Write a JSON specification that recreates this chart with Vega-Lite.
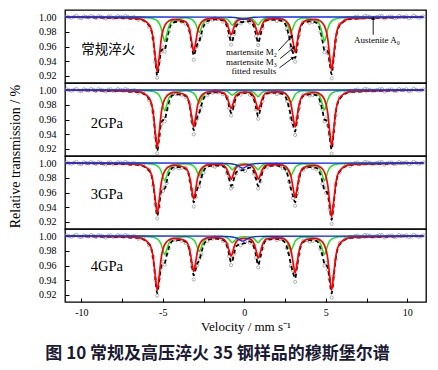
{
"$schema":"https://vega.github.io/schema/vega-lite/v6.json",
"background":"white",
"padding":{"left":7,"top":9,"right":5,"bottom":4},
"bounds":"flush",
"spacing":0,
"config":{"view":{"stroke":"#000","strokeWidth":1.3},"font":"Liberation Serif","axis":{"labelFont":"Liberation Serif","titleFont":"Liberation Serif","labelColor":"#000","titleColor":"#000","tickColor":"#000","titleFontWeight":"normal","domain":false,"grid":false,"labelFontSize":10,"labelFlush":false,"labelOverlap":false}},
"title":{"text":"图 10  常规及高压淬火 35 钢样品的穆斯堡尔谱","orient":"bottom","anchor":"middle","frame":"bounds","font":"Noto Sans CJK SC","fontSize":17,"fontWeight":"bold","color":"#1a1a33","offset":12},
"data":{"values":[
{"p":0,"x":-11,"r":1,"g":1,"f":1,"b":1},
{"p":0,"x":11,"r":1,"g":1,"f":1,"b":1},
{"p":0,"x":-10.9,"d":1.0008},{"p":0,"x":-10.75,"d":0.9996},{"p":0,"x":-10.6,"d":0.999},{"p":0,"x":-10.45,"d":1.0004},{"p":0,"x":-10.3,"d":1.0016},{"p":0,"x":-10.15,"d":0.9991},{"p":0,"x":-10,"d":0.9984},{"p":0,"x":-9.85,"d":1.0009},{"p":0,"x":-9.7,"d":1.0001},{"p":0,"x":-9.55,"d":0.9994},{"p":0,"x":-9.4,"d":1.0013},{"p":0,"x":-9.25,"d":1.0002},{"p":0,"x":-9.1,"d":0.9987},{"p":0,"x":-8.95,"d":1.0011},{"p":0,"x":-8.8,"d":1.0005},{"p":0,"x":-8.65,"d":0.9992},{"p":0,"x":-8.5,"d":0.998},{"p":0,"x":-8.35,"d":1.0006},{"p":0,"x":-8.2,"d":1.001},{"p":0,"x":-8.05,"d":0.9988},{"p":0,"x":-7.9,"d":0.9993},{"p":0,"x":-7.75,"d":1.0012},{"p":0,"x":-7.6,"d":1.0003},{"p":0,"x":-7.45,"d":0.9995},{"p":0,"x":-7.3,"d":1.0014},{"p":0,"x":-7.15,"d":1.0004},{"p":0,"x":-7,"d":0.9985},{"p":0,"x":-6.9,"d":0.9992},{"p":0,"x":-6.75,"d":0.9999},{"p":0,"x":-6.2,"d":0.9968},
{"p":0,"x":-4.2,"d":0.9948},{"p":0,"x":-3.85,"d":0.9935},{"p":0,"x":-1.95,"d":0.9962},{"p":0,"x":-1.6,"d":0.9971},{"p":0,"x":1.6,"d":0.9968},{"p":0,"x":1.8,"d":0.9975},{"p":0,"x":2.2,"d":0.9958},{"p":0,"x":3.85,"d":0.9944},{"p":0,"x":4.2,"d":0.9931},{"p":0,"x":6.2,"d":0.9962},
{"p":0,"x":6.8,"d":0.9999},{"p":0,"x":6.95,"d":1.0006},{"p":0,"x":7.1,"d":0.9985},{"p":0,"x":7.25,"d":0.9994},{"p":0,"x":7.4,"d":1.0014},{"p":0,"x":7.55,"d":1.0009},{"p":0,"x":7.7,"d":1.0003},{"p":0,"x":7.85,"d":0.9989},{"p":0,"x":8,"d":0.9993},{"p":0,"x":8.15,"d":1.0003},{"p":0,"x":8.3,"d":1.001},{"p":0,"x":8.45,"d":1.0012},{"p":0,"x":8.6,"d":0.998},{"p":0,"x":8.75,"d":0.9995},{"p":0,"x":8.9,"d":1.0005},{"p":0,"x":9.05,"d":1.0007},{"p":0,"x":9.2,"d":0.9987},{"p":0,"x":9.35,"d":0.9991},{"p":0,"x":9.5,"d":1.0013},{"p":0,"x":9.65,"d":1.0004},{"p":0,"x":9.8,"d":1.0001},{"p":0,"x":9.95,"d":1.0011},{"p":0,"x":10.1,"d":0.9984},{"p":0,"x":10.25,"d":0.9993},{"p":0,"x":10.4,"d":1.0016},{"p":0,"x":10.55,"d":1.0002},{"p":0,"x":10.7,"d":0.999},{"p":0,"x":10.85,"d":0.9996},{"p":0,"x":11,"d":1.0008},

{"p":1,"x":-6.5,"r":0.9979,"g":0.9995,"f":0.9974,"d":0.9962},
{"p":1,"x":-5.84,"r":0.9898,"g":0.9986,"f":0.9884,"d":0.9868},
{"p":1,"x":-5.59,"r":0.9711,"g":0.9976,"f":0.9687,"d":0.9712},
{"p":1,"x":-5.46,"r":0.9456,"g":0.9965,"f":0.9421,"d":0.9385},
{"p":1,"x":-5.34,"r":0.926,"g":0.9948,"f":0.9208,"d":0.9175},
{"p":1,"x":-5.22,"r":0.9456,"g":0.9915,"f":0.9371,"d":0.9402},
{"p":1,"x":-5.09,"r":0.9711,"g":0.9843,"f":0.9554,"d":0.953},
{"p":1,"x":-4.98,"r":0.9825,"g":0.9736,"f":0.9561,"d":0.9588},
{"p":1,"x":-4.88,"r":0.9882,"g":0.967,"f":0.9552,"d":0.9531},
{"p":1,"x":-4.76,"r":0.9922,"g":0.9757,"f":0.9679,"d":0.9702},
{"p":1,"x":-4.63,"r":0.9946,"g":0.9871,"f":0.9817,"d":0.9801},
{"p":1,"x":-4.38,"r":0.9969,"g":0.9954,"f":0.9923,"d":0.9941},
{"p":1,"x":-4,"r":0.9962,"g":0.9979,"f":0.9941,"d":0.9958},
{"p":1,"x":-3.6,"r":0.9935,"g":0.9989,"f":0.9924,"d":0.9906},
{"p":1,"x":-3.35,"r":0.9817,"g":0.9978,"f":0.9795,"d":0.982},
{"p":1,"x":-3.22,"r":0.9655,"g":0.9967,"f":0.9622,"d":0.9598},
{"p":1,"x":-3.1,"r":0.953,"g":0.9946,"f":0.9476,"d":0.942},
{"p":1,"x":-2.98,"r":0.9655,"g":0.9905,"f":0.956,"d":0.9588},
{"p":1,"x":-2.88,"r":0.9788,"g":0.9846,"f":0.9634,"d":0.961},
{"p":1,"x":-2.76,"r":0.9879,"g":0.979,"f":0.9669,"d":0.9695},
{"p":1,"x":-2.64,"r":0.9925,"g":0.9846,"f":0.9771,"d":0.9752},
{"p":1,"x":-2.51,"r":0.9952,"g":0.9918,"f":0.987,"d":0.9888},
{"p":1,"x":-2.26,"r":0.9975,"g":0.9971,"f":0.9946,"d":0.9931},
{"p":1,"x":-1.8,"r":0.998,"g":0.9987,"f":0.9967,"b":0.9999,"d":0.9985},
{"p":1,"x":-1.31,"r":0.9967,"g":0.9988,"f":0.9953,"b":0.9998,"d":0.9937},
{"p":1,"x":-1.06,"r":0.9906,"g":0.997,"f":0.9874,"b":0.9998,"d":0.9896},
{"p":1,"x":-0.93,"r":0.9824,"g":0.9945,"f":0.9766,"b":0.9997,"d":0.9742},
{"p":1,"x":-0.81,"r":0.976,"g":0.9905,"f":0.9661,"b":0.9996,"d":0.9625},
{"p":1,"x":-0.73,"r":0.9793,"g":0.989,"f":0.9678,"b":0.9995,"d":0.9705},
{"p":1,"x":-0.61,"r":0.988,"g":0.9919,"f":0.9792,"b":0.9993,"d":0.977},
{"p":1,"x":-0.48,"r":0.9935,"g":0.9957,"f":0.9882,"b":0.999,"d":0.9901},
{"p":1,"x":-0.23,"r":0.9967,"g":0.9985,"f":0.9929,"b":0.9978,"d":0.9912},
{"p":1,"x":-0.05,"b":0.997},
{"p":1,"x":0.05,"r":0.9975,"g":0.9986,"f":0.9934,"b":0.9973,"d":0.9952},
{"p":1,"x":0.34,"r":0.997,"g":0.9985,"f":0.9944,"b":0.9989,"d":0.9925},
{"p":1,"x":0.59,"r":0.9919,"g":0.9957,"f":0.9872,"b":0.9996,"d":0.9893},
{"p":1,"x":0.72,"r":0.9846,"g":0.9919,"f":0.9762,"b":0.9997,"d":0.9738},
{"p":1,"x":0.855,"r":0.9761,"g":0.9891,"f":0.965,"b":0.9998,"d":0.9618},
{"p":1,"x":0.99,"r":0.9824,"g":0.993,"f":0.9752,"d":0.9779},
{"p":1,"x":1.12,"r":0.9906,"g":0.9963,"f":0.9869,"d":0.985},
{"p":1,"x":1.37,"r":0.9967,"g":0.9986,"f":0.9953,"b":1,"d":0.997},
{"p":1,"x":2,"r":0.9978,"g":0.9986,"f":0.9964,"d":0.9946},
{"p":1,"x":2.36,"r":0.9969,"g":0.9971,"f":0.994,"d":0.9958},
{"p":1,"x":2.61,"r":0.9936,"g":0.9918,"f":0.9854,"d":0.9836},
{"p":1,"x":2.74,"r":0.9896,"g":0.9846,"f":0.9742,"d":0.9768},
{"p":1,"x":2.86,"r":0.9821,"g":0.979,"f":0.9611,"d":0.9588},
{"p":1,"x":2.99,"r":0.9663,"g":0.9852,"f":0.9515,"d":0.954},
{"p":1,"x":3.12,"r":0.952,"g":0.9922,"f":0.9442,"d":0.9395},
{"p":1,"x":3.24,"r":0.9647,"g":0.9954,"f":0.9601,"d":0.9628},
{"p":1,"x":3.37,"r":0.9813,"g":0.9972,"f":0.9785,"d":0.9763},
{"p":1,"x":3.62,"r":0.9934,"g":0.9986,"f":0.992,"d":0.9938},
{"p":1,"x":4,"r":0.9961,"g":0.9979,"f":0.994,"d":0.9922},
{"p":1,"x":4.42,"r":0.9969,"g":0.9954,"f":0.9923,"d":0.994},
{"p":1,"x":4.67,"r":0.9944,"g":0.9871,"f":0.9815,"d":0.9794},
{"p":1,"x":4.8,"r":0.9919,"g":0.9757,"f":0.9676,"d":0.9701},
{"p":1,"x":4.92,"r":0.9877,"g":0.967,"f":0.9547,"d":0.952},
{"p":1,"x":5.02,"r":0.9815,"g":0.9736,"f":0.9551,"d":0.9576},
{"p":1,"x":5.13,"r":0.969,"g":0.9843,"f":0.9533,"d":0.951},
{"p":1,"x":5.24,"r":0.9471,"g":0.9907,"f":0.9378,"d":0.9405},
{"p":1,"x":5.36,"r":0.928,"g":0.9944,"f":0.9224,"d":0.9168},
{"p":1,"x":5.48,"r":0.9471,"g":0.9963,"f":0.9434,"d":0.946},
{"p":1,"x":5.61,"r":0.9719,"g":0.9974,"f":0.9693,"d":0.9671},
{"p":1,"x":5.86,"r":0.9901,"g":0.9986,"f":0.9887,"d":0.9905},
{"p":1,"x":6.5,"r":0.9978,"g":0.9995,"f":0.9973,"d":0.9988},

{"p":2,"x":-6.5,"r":0.9977,"g":0.9996,"f":0.9973,"d":0.9961},
{"p":2,"x":-5.84,"r":0.9892,"g":0.9988,"f":0.988,"d":0.9864},
{"p":2,"x":-5.59,"r":0.9696,"g":0.9979,"f":0.9675,"d":0.97},
{"p":2,"x":-5.46,"r":0.9427,"g":0.997,"f":0.9397,"d":0.9361},
{"p":2,"x":-5.34,"r":0.922,"g":0.9955,"f":0.9175,"d":0.9142},
{"p":2,"x":-5.22,"r":0.9427,"g":0.9928,"f":0.9355,"d":0.9386},
{"p":2,"x":-5.09,"r":0.9696,"g":0.9867,"f":0.9563,"d":0.9539},
{"p":2,"x":-4.98,"r":0.9816,"g":0.9776,"f":0.9592,"d":0.9619},
{"p":2,"x":-4.88,"r":0.9876,"g":0.972,"f":0.9596,"d":0.9575},
{"p":2,"x":-4.76,"r":0.9917,"g":0.9794,"f":0.9711,"d":0.9734},
{"p":2,"x":-4.63,"r":0.9943,"g":0.9891,"f":0.9834,"d":0.9818},
{"p":2,"x":-4.38,"r":0.9968,"g":0.9961,"f":0.9929,"d":0.9947},
{"p":2,"x":-4,"r":0.9959,"g":0.9981,"f":0.994,"d":0.9957},
{"p":2,"x":-3.6,"r":0.9931,"g":0.999,"f":0.9921,"d":0.9903},
{"p":2,"x":-3.35,"r":0.9805,"g":0.9981,"f":0.9786,"d":0.9811},
{"p":2,"x":-3.22,"r":0.9632,"g":0.9971,"f":0.9603,"d":0.9579},
{"p":2,"x":-3.1,"r":0.95,"g":0.9954,"f":0.9454,"d":0.9398},
{"p":2,"x":-2.98,"r":0.9632,"g":0.9919,"f":0.9551,"d":0.9579},
{"p":2,"x":-2.88,"r":0.9774,"g":0.9868,"f":0.9642,"d":0.9618},
{"p":2,"x":-2.76,"r":0.9871,"g":0.982,"f":0.9691,"d":0.9717},
{"p":2,"x":-2.64,"r":0.992,"g":0.9868,"f":0.9788,"d":0.9769},
{"p":2,"x":-2.51,"r":0.9948,"g":0.993,"f":0.9878,"d":0.9896},
{"p":2,"x":-2.26,"r":0.9973,"g":0.9975,"f":0.9948,"d":0.9933},
{"p":2,"x":-1.8,"r":0.9978,"g":0.9991,"f":0.9969,"d":0.9987},
{"p":2,"x":-1.31,"r":0.9965,"g":0.9993,"f":0.9958,"d":0.9942},
{"p":2,"x":-1.06,"r":0.9902,"g":0.9981,"f":0.9883,"d":0.9905},
{"p":2,"x":-0.93,"r":0.9816,"g":0.9965,"f":0.9781,"d":0.9757},
{"p":2,"x":-0.81,"r":0.975,"g":0.994,"f":0.969,"d":0.9654},
{"p":2,"x":-0.73,"r":0.9784,"g":0.993,"f":0.9714,"d":0.9741},
{"p":2,"x":-0.61,"r":0.9875,"g":0.9949,"f":0.9824,"d":0.9802},
{"p":2,"x":-0.48,"r":0.9933,"g":0.9973,"f":0.9906,"d":0.9925},
{"p":2,"x":-0.23,"r":0.9964,"g":0.999,"f":0.9954,"d":0.9937},
{"p":2,"x":0.05,"r":0.9972,"g":0.9991,"f":0.9963,"d":0.9981},
{"p":2,"x":0.34,"r":0.9966,"g":0.9988,"f":0.9954,"d":0.9935},
{"p":2,"x":0.59,"r":0.9909,"g":0.9965,"f":0.9874,"d":0.9895},
{"p":2,"x":0.72,"r":0.9827,"g":0.9934,"f":0.9761,"d":0.9737},
{"p":2,"x":0.855,"r":0.9731,"g":0.991,"f":0.9642,"d":0.961},
{"p":2,"x":0.99,"r":0.9802,"g":0.9942,"f":0.9744,"d":0.9771},
{"p":2,"x":1.12,"r":0.9895,"g":0.997,"f":0.9865,"d":0.9846},
{"p":2,"x":1.37,"r":0.9963,"g":0.9989,"f":0.9952,"d":0.9969},
{"p":2,"x":2,"r":0.9976,"g":0.9988,"f":0.9964,"d":0.9946},
{"p":2,"x":2.36,"r":0.9968,"g":0.9977,"f":0.9945,"d":0.9963},
{"p":2,"x":2.61,"r":0.9933,"g":0.9934,"f":0.9867,"d":0.9849},
{"p":2,"x":2.74,"r":0.9891,"g":0.9875,"f":0.9766,"d":0.9792},
{"p":2,"x":2.86,"r":0.9814,"g":0.983,"f":0.9644,"d":0.9621},
{"p":2,"x":2.99,"r":0.9648,"g":0.988,"f":0.9528,"d":0.9553},
{"p":2,"x":3.12,"r":0.95,"g":0.9937,"f":0.9437,"d":0.939},
{"p":2,"x":3.24,"r":0.9632,"g":0.9963,"f":0.9595,"d":0.9622},
{"p":2,"x":3.37,"r":0.9805,"g":0.9977,"f":0.9782,"d":0.976},
{"p":2,"x":3.62,"r":0.9931,"g":0.9989,"f":0.992,"d":0.9938},
{"p":2,"x":4,"r":0.9959,"g":0.9983,"f":0.9942,"d":0.9924},
{"p":2,"x":4.42,"r":0.9967,"g":0.9963,"f":0.993,"d":0.9947},
{"p":2,"x":4.67,"r":0.9941,"g":0.9895,"f":0.9836,"d":0.9815},
{"p":2,"x":4.8,"r":0.9914,"g":0.9802,"f":0.9716,"d":0.9741},
{"p":2,"x":4.92,"r":0.987,"g":0.973,"f":0.96,"d":0.9573},
{"p":2,"x":5.02,"r":0.9805,"g":0.9784,"f":0.9589,"d":0.9614},
{"p":2,"x":5.13,"r":0.9673,"g":0.9871,"f":0.9544,"d":0.9521},
{"p":2,"x":5.24,"r":0.9441,"g":0.9924,"f":0.9365,"d":0.9392},
{"p":2,"x":5.36,"r":0.924,"g":0.9954,"f":0.9194,"d":0.9138},
{"p":2,"x":5.48,"r":0.9441,"g":0.9969,"f":0.941,"d":0.9436},
{"p":2,"x":5.61,"r":0.9704,"g":0.9979,"f":0.9683,"d":0.9661},
{"p":2,"x":5.86,"r":0.9895,"g":0.9988,"f":0.9883,"d":0.9901},
{"p":2,"x":6.5,"r":0.9977,"g":0.9996,"f":0.9973,"d":0.9988},

{"p":3,"x":-6.5,"r":0.998,"g":0.9996,"f":0.9976,"d":0.9988},
{"p":3,"x":-5.84,"r":0.9906,"g":0.999,"f":0.9896,"d":0.9912},
{"p":3,"x":-5.59,"r":0.9735,"g":0.9982,"f":0.9717,"d":0.9692},
{"p":3,"x":-5.46,"r":0.95,"g":0.9975,"f":0.9475,"d":0.9439},
{"p":3,"x":-5.34,"r":0.932,"g":0.9962,"f":0.9282,"d":0.9249},
{"p":3,"x":-5.22,"r":0.95,"g":0.9938,"f":0.9438,"d":0.9407},
{"p":3,"x":-5.09,"r":0.9735,"g":0.9886,"f":0.9621,"d":0.9645},
{"p":3,"x":-4.98,"r":0.984,"g":0.9808,"f":0.9648,"d":0.9621},
{"p":3,"x":-4.88,"r":0.9892,"g":0.976,"f":0.9652,"d":0.9673},
{"p":3,"x":-4.76,"r":0.9928,"g":0.9824,"f":0.9752,"d":0.9729},
{"p":3,"x":-4.63,"r":0.995,"g":0.9906,"f":0.9856,"d":0.9872},
{"p":3,"x":-4.38,"r":0.9972,"g":0.9967,"f":0.9939,"d":0.9921},
{"p":3,"x":-4,"r":0.9962,"g":0.9984,"f":0.9946,"d":0.9929},
{"p":3,"x":-3.6,"r":0.9932,"g":0.9991,"f":0.9923,"d":0.9941},
{"p":3,"x":-3.35,"r":0.9809,"g":0.9982,"f":0.9791,"d":0.9766},
{"p":3,"x":-3.22,"r":0.964,"g":0.9973,"f":0.9613,"d":0.9637},
{"p":3,"x":-3.1,"r":0.951,"g":0.9956,"f":0.9466,"d":0.941},
{"p":3,"x":-2.98,"r":0.964,"g":0.9923,"f":0.9563,"d":0.9535},
{"p":3,"x":-2.88,"r":0.9779,"g":0.9875,"f":0.9654,"d":0.9678},
{"p":3,"x":-2.76,"r":0.9874,"g":0.983,"f":0.9704,"d":0.9678},
{"p":3,"x":-2.64,"r":0.9922,"g":0.9875,"f":0.9797,"d":0.9816},
{"p":3,"x":-2.51,"r":0.995,"g":0.9934,"f":0.9884,"d":0.9866},
{"p":3,"x":-2.26,"r":0.9974,"g":0.9977,"f":0.9951,"d":0.9966},
{"p":3,"x":-1.8,"r":0.998,"g":0.999,"f":0.9968,"b":0.9998,"d":0.995},
{"p":3,"x":-1.31,"r":0.997,"g":0.999,"f":0.9956,"b":0.9996,"d":0.9972},
{"p":3,"x":-1.06,"r":0.9914,"g":0.9976,"f":0.9884,"b":0.9994,"d":0.9862},
{"p":3,"x":-0.93,"r":0.9838,"g":0.9955,"f":0.9785,"b":0.9992,"d":0.9809},
{"p":3,"x":-0.81,"r":0.978,"g":0.9922,"f":0.9691,"b":0.9989,"d":0.9655},
{"p":3,"x":-0.73,"r":0.981,"g":0.991,"f":0.9707,"b":0.9987,"d":0.968},
{"p":3,"x":-0.61,"r":0.989,"g":0.9934,"f":0.9806,"b":0.9982,"d":0.9828},
{"p":3,"x":-0.48,"r":0.9941,"g":0.9965,"f":0.9879,"b":0.9973,"d":0.986},
{"p":3,"x":-0.23,"r":0.997,"g":0.9988,"f":0.9899,"b":0.9941,"d":0.9916},
{"p":3,"x":-0.1,"b":0.993},
{"p":3,"x":0.05,"r":0.9977,"g":0.9989,"f":0.991,"b":0.9944,"d":0.9892},
{"p":3,"x":0.34,"r":0.9972,"g":0.9988,"f":0.9938,"b":0.9978,"d":0.9957},
{"p":3,"x":0.59,"r":0.9926,"g":0.9965,"f":0.988,"b":0.9989,"d":0.9859},
{"p":3,"x":0.72,"r":0.9859,"g":0.9934,"f":0.9785,"b":0.9992,"d":0.9809},
{"p":3,"x":0.855,"r":0.9781,"g":0.991,"f":0.9686,"b":0.9994,"d":0.9654},
{"p":3,"x":0.99,"r":0.9838,"g":0.9942,"f":0.9775,"b":0.9995,"d":0.9748},
{"p":3,"x":1.12,"r":0.9914,"g":0.997,"f":0.988,"d":0.9899},
{"p":3,"x":1.37,"r":0.997,"g":0.9989,"f":0.9956,"b":0.9997,"d":0.9939},
{"p":3,"x":2,"r":0.9978,"g":0.9988,"f":0.9966,"d":0.9984},
{"p":3,"x":2.36,"r":0.997,"g":0.9977,"f":0.9947,"d":0.9929},
{"p":3,"x":2.61,"r":0.9937,"g":0.9934,"f":0.9871,"d":0.9889},
{"p":3,"x":2.74,"r":0.9898,"g":0.9875,"f":0.9773,"d":0.9747},
{"p":3,"x":2.86,"r":0.9825,"g":0.983,"f":0.9655,"d":0.9678},
{"p":3,"x":2.99,"r":0.967,"g":0.988,"f":0.955,"d":0.9525},
{"p":3,"x":3.12,"r":0.953,"g":0.9937,"f":0.9467,"d":0.942},
{"p":3,"x":3.24,"r":0.9655,"g":0.9963,"f":0.9618,"d":0.9591},
{"p":3,"x":3.37,"r":0.9817,"g":0.9977,"f":0.9794,"d":0.9816},
{"p":3,"x":3.62,"r":0.9935,"g":0.9989,"f":0.9924,"d":0.9906},
{"p":3,"x":4,"r":0.9962,"g":0.9984,"f":0.9946,"d":0.9964},
{"p":3,"x":4.42,"r":0.9968,"g":0.9967,"f":0.9935,"d":0.9918},
{"p":3,"x":4.67,"r":0.9943,"g":0.9906,"f":0.9849,"d":0.987},
{"p":3,"x":4.8,"r":0.9918,"g":0.9824,"f":0.9742,"d":0.9717},
{"p":3,"x":4.92,"r":0.9875,"g":0.976,"f":0.9635,"d":0.9662},
{"p":3,"x":5.02,"r":0.9812,"g":0.9808,"f":0.962,"d":0.9595},
{"p":3,"x":5.13,"r":0.9686,"g":0.9886,"f":0.9572,"d":0.9595},
{"p":3,"x":5.24,"r":0.9463,"g":0.9933,"f":0.9396,"d":0.9369},
{"p":3,"x":5.36,"r":0.927,"g":0.9959,"f":0.9229,"d":0.9173},
{"p":3,"x":5.48,"r":0.9463,"g":0.9973,"f":0.9436,"d":0.941},
{"p":3,"x":5.61,"r":0.9715,"g":0.9981,"f":0.9696,"d":0.9718},
{"p":3,"x":5.86,"r":0.9899,"g":0.999,"f":0.9889,"d":0.9871},
{"p":3,"x":6.5,"r":0.9978,"g":0.9996,"f":0.9974,"d":0.9959},

{"p":4,"x":-6.5,"r":0.9979,"g":0.9996,"f":0.9975,"d":0.9963},
{"p":4,"x":-5.84,"r":0.9899,"g":0.999,"f":0.9889,"d":0.9873},
{"p":4,"x":-5.59,"r":0.9713,"g":0.9982,"f":0.9695,"d":0.972},
{"p":4,"x":-5.46,"r":0.946,"g":0.9973,"f":0.9433,"d":0.9397},
{"p":4,"x":-5.34,"r":0.9265,"g":0.996,"f":0.9225,"d":0.9192},
{"p":4,"x":-5.22,"r":0.946,"g":0.9936,"f":0.9396,"d":0.9427},
{"p":4,"x":-5.09,"r":0.9713,"g":0.9881,"f":0.9594,"d":0.957},
{"p":4,"x":-4.98,"r":0.9827,"g":0.98,"f":0.9627,"d":0.9654},
{"p":4,"x":-4.88,"r":0.9883,"g":0.975,"f":0.9633,"d":0.9612},
{"p":4,"x":-4.76,"r":0.9922,"g":0.9816,"f":0.9738,"d":0.9761},
{"p":4,"x":-4.63,"r":0.9946,"g":0.9902,"f":0.9848,"d":0.9832},
{"p":4,"x":-4.38,"r":0.9969,"g":0.9965,"f":0.9934,"d":0.9952},
{"p":4,"x":-4,"r":0.9961,"g":0.9983,"f":0.9944,"d":0.9961},
{"p":4,"x":-3.6,"r":0.9934,"g":0.9989,"f":0.9923,"d":0.9905},
{"p":4,"x":-3.35,"r":0.9813,"g":0.9978,"f":0.9791,"d":0.9816},
{"p":4,"x":-3.22,"r":0.9647,"g":0.9967,"f":0.9614,"d":0.959},
{"p":4,"x":-3.1,"r":0.952,"g":0.9946,"f":0.9466,"d":0.941},
{"p":4,"x":-2.98,"r":0.9647,"g":0.9905,"f":0.9552,"d":0.958},
{"p":4,"x":-2.88,"r":0.9783,"g":0.9846,"f":0.9629,"d":0.9605},
{"p":4,"x":-2.76,"r":0.9877,"g":0.979,"f":0.9667,"d":0.9693},
{"p":4,"x":-2.64,"r":0.9924,"g":0.9846,"f":0.977,"d":0.9751},
{"p":4,"x":-2.51,"r":0.9951,"g":0.9918,"f":0.9869,"d":0.9887},
{"p":4,"x":-2.26,"r":0.9974,"g":0.9971,"f":0.9945,"d":0.993},
{"p":4,"x":-1.8,"r":0.9978,"g":0.9988,"f":0.9964,"b":0.9998,"d":0.9982},
{"p":4,"x":-1.31,"r":0.9963,"g":0.999,"f":0.9949,"b":0.9996,"d":0.9933},
{"p":4,"x":-1.06,"r":0.9895,"g":0.9976,"f":0.9865,"b":0.9994,"d":0.9887},
{"p":4,"x":-0.93,"r":0.9802,"g":0.9955,"f":0.9749,"b":0.9992,"d":0.9725},
{"p":4,"x":-0.81,"r":0.973,"g":0.9922,"f":0.9641,"b":0.9989,"d":0.9605},
{"p":4,"x":-0.73,"r":0.9767,"g":0.991,"f":0.9664,"b":0.9987,"d":0.9691},
{"p":4,"x":-0.61,"r":0.9865,"g":0.9934,"f":0.9781,"b":0.9982,"d":0.9759},
{"p":4,"x":-0.48,"r":0.9927,"g":0.9965,"f":0.9865,"b":0.9973,"d":0.9884},
{"p":4,"x":-0.23,"r":0.9961,"g":0.9988,"f":0.989,"b":0.9941,"d":0.9873},
{"p":4,"x":-0.1,"b":0.993},
{"p":4,"x":0.05,"r":0.9969,"g":0.9989,"f":0.9902,"b":0.9944,"d":0.992},
{"p":4,"x":0.34,"r":0.9962,"g":0.9988,"f":0.9928,"b":0.9978,"d":0.9909},
{"p":4,"x":0.59,"r":0.9899,"g":0.9965,"f":0.9853,"b":0.9989,"d":0.9874},
{"p":4,"x":0.72,"r":0.9808,"g":0.9934,"f":0.9734,"b":0.9992,"d":0.971},
{"p":4,"x":0.855,"r":0.9701,"g":0.991,"f":0.9606,"d":0.9574},
{"p":4,"x":0.99,"r":0.9779,"g":0.9942,"f":0.9716,"b":0.9995,"d":0.9743},
{"p":4,"x":1.12,"r":0.9883,"g":0.997,"f":0.9849,"d":0.983},
{"p":4,"x":1.37,"r":0.9959,"g":0.9989,"f":0.9945,"b":0.9997,"d":0.9962},
{"p":4,"x":2,"r":0.9975,"g":0.9987,"f":0.9962,"d":0.9944},
{"p":4,"x":2.36,"r":0.9968,"g":0.9972,"f":0.994,"d":0.9958},
{"p":4,"x":2.61,"r":0.9933,"g":0.9922,"f":0.9855,"d":0.9837},
{"p":4,"x":2.74,"r":0.9891,"g":0.9853,"f":0.9744,"d":0.977},
{"p":4,"x":2.86,"r":0.9814,"g":0.98,"f":0.9614,"d":0.9591},
{"p":4,"x":2.99,"r":0.9648,"g":0.9859,"f":0.9507,"d":0.9532},
{"p":4,"x":3.12,"r":0.95,"g":0.9926,"f":0.9426,"d":0.9379},
{"p":4,"x":3.24,"r":0.9632,"g":0.9957,"f":0.9589,"d":0.9616},
{"p":4,"x":3.37,"r":0.9805,"g":0.9973,"f":0.9778,"d":0.9756},
{"p":4,"x":3.62,"r":0.9931,"g":0.9987,"f":0.9918,"d":0.9936},
{"p":4,"x":4,"r":0.996,"g":0.9983,"f":0.9943,"d":0.9925},
{"p":4,"x":4.42,"r":0.9968,"g":0.9965,"f":0.9933,"d":0.995},
{"p":4,"x":4.67,"r":0.9943,"g":0.9902,"f":0.9845,"d":0.9824},
{"p":4,"x":4.8,"r":0.9917,"g":0.9816,"f":0.9733,"d":0.9758},
{"p":4,"x":4.92,"r":0.9874,"g":0.975,"f":0.9624,"d":0.9597},
{"p":4,"x":5.02,"r":0.9811,"g":0.98,"f":0.9611,"d":0.9636},
{"p":4,"x":5.13,"r":0.9684,"g":0.9881,"f":0.9565,"d":0.9542},
{"p":4,"x":5.24,"r":0.946,"g":0.993,"f":0.939,"d":0.9417},
{"p":4,"x":5.36,"r":0.9265,"g":0.9957,"f":0.9222,"d":0.9166},
{"p":4,"x":5.48,"r":0.946,"g":0.9972,"f":0.9432,"d":0.9458},
{"p":4,"x":5.61,"r":0.9713,"g":0.9981,"f":0.9694,"d":0.9672},
{"p":4,"x":5.86,"r":0.9899,"g":0.9989,"f":0.9888,"d":0.9906},
{"p":4,"x":6.5,"r":0.9978,"g":0.9996,"f":0.9974,"d":0.9989},

{"p":1,"x":-10.0,"y":0.955,"lbl":"常规淬火"},
{"p":2,"x":-9.42,"y":0.954,"lbl":"2GPa"},
{"p":3,"x":-9.42,"y":0.957,"lbl":"3GPa"},
{"p":4,"x":-9.42,"y":0.958,"lbl":"4GPa"},
{"p":1,"x":2.0,"y":0.9531,"ann":"martensite M₂"},
{"p":1,"x":2.0,"y":0.9396,"ann":"martensite M₃"},
{"p":1,"x":1.96,"y":0.9261,"ann":"fitted results"},
{"p":1,"x":8.14,"y":0.9685,"ann2":"Austenite A₀"},
{"p":1,"ax":2.1,"ay":0.9545,"ax2":2.92,"ay2":0.9739},
{"p":1,"ax":2.2,"ay":0.9436,"ax2":3.06,"ay2":0.9591},
{"p":1,"ax":2.16,"ay":0.9311,"ax2":2.98,"ay2":0.9446},
{"p":1,"ax":7.91,"ay":0.976,"ax2":7.91,"ay2":0.9985}
]},
"vconcat":[
{"width":361,"height":73,
 "transform":[{"filter":"datum.p == 0 || datum.p == 1"}],
 "encoding":{"x":{"field":"x","type":"quantitative","scale":{"domain":[-11,11.15],"nice":false,"zero":false},"axis":null}},
 "layer":[
  {"transform":[{"filter":"isValid(datum.d)"}],"mark":{"type":"point","shape":"circle","filled":false,"size":10,"color":"#8f8f8f","strokeWidth":0.7,"opacity":1},"encoding":{"y":{"field":"d","type":"quantitative","scale":{"domain":[0.9105,1.0095],"nice":false,"zero":false},"axis":{"values":[0.92,0.94,0.96,0.98,1],"format":".2f","tickSize":-4,"labelPadding":13,"labelOverlap":false,"title":null}}}},
  {"transform":[{"filter":"isValid(datum.f)"}],"mark":{"type":"line","color":"#000","strokeWidth":1.8,"strokeDash":[4,3],"interpolate":"monotone"},"encoding":{"y":{"field":"f","type":"quantitative","axis":{"values":[0.92,0.94,0.96,0.98,1],"format":".2f","tickSize":-4,"labelPadding":13,"labelOverlap":false,"title":null}}}},
  {"transform":[{"filter":"isValid(datum.g)"}],"mark":{"type":"line","color":"#1fe01f","strokeWidth":1.5,"interpolate":"monotone"},"encoding":{"y":{"field":"g","type":"quantitative","axis":{"values":[0.92,0.94,0.96,0.98,1],"format":".2f","tickSize":-4,"labelPadding":13,"labelOverlap":false,"title":null}}}},
  {"transform":[{"filter":"isValid(datum.r)"}],"mark":{"type":"line","color":"#ff0000","strokeWidth":1.7,"interpolate":"monotone"},"encoding":{"y":{"field":"r","type":"quantitative","axis":{"values":[0.92,0.94,0.96,0.98,1],"format":".2f","tickSize":-4,"labelPadding":13,"labelOverlap":false,"title":null}}}},
  {"transform":[{"filter":"isValid(datum.b)"}],"mark":{"type":"line","color":"#0a2aff","strokeWidth":1.4,"interpolate":"monotone"},"encoding":{"y":{"field":"b","type":"quantitative","axis":{"values":[0.92,0.94,0.96,0.98,1],"format":".2f","tickSize":-4,"labelPadding":13,"labelOverlap":false,"title":null}}}},
  {"transform":[{"filter":"isValid(datum.lbl)"}],"mark":{"type":"text","align":"left","baseline":"middle","fontSize":13.5,"font":"Liberation Serif, Noto Sans CJK SC","color":"#000"},"encoding":{"y":{"field":"y","type":"quantitative","axis":{"values":[0.92,0.94,0.96,0.98,1],"format":".2f","tickSize":-4,"labelPadding":13,"labelOverlap":false,"title":null}},"text":{"field":"lbl"}}},
  {"transform":[{"filter":"isValid(datum.ann)"}],"mark":{"type":"text","align":"right","baseline":"middle","fontSize":9,"font":"Liberation Serif","color":"#000"},"encoding":{"y":{"field":"y","type":"quantitative","axis":{"values":[0.92,0.94,0.96,0.98,1],"format":".2f","tickSize":-4,"labelPadding":13,"labelOverlap":false,"title":null}},"text":{"field":"ann"}}},
  {"transform":[{"filter":"isValid(datum.ann2)"}],"mark":{"type":"text","align":"center","baseline":"middle","fontSize":9,"font":"Liberation Serif","color":"#000"},"encoding":{"y":{"field":"y","type":"quantitative","axis":{"values":[0.92,0.94,0.96,0.98,1],"format":".2f","tickSize":-4,"labelPadding":13,"labelOverlap":false,"title":null}},"text":{"field":"ann2"}}},
  {"transform":[{"filter":"isValid(datum.ax)"}],"mark":{"type":"rule","color":"#000","strokeWidth":0.9},"encoding":{"x":{"field":"ax","type":"quantitative","axis":null},"y":{"field":"ay","type":"quantitative","axis":{"values":[0.92,0.94,0.96,0.98,1],"format":".2f","tickSize":-4,"labelPadding":13,"labelOverlap":false,"title":null}},"x2":{"field":"ax2"},"y2":{"field":"ay2"}}},
  {"transform":[{"filter":"isValid(datum.ax) && datum.ax < 5"}],"mark":{"type":"point","shape":"triangle-up","filled":true,"size":14,"color":"#000","angle":47,"opacity":1},"encoding":{"x":{"field":"ax2","type":"quantitative","axis":null},"y":{"field":"ay2","type":"quantitative","axis":{"values":[0.92,0.94,0.96,0.98,1],"format":".2f","tickSize":-4,"labelPadding":13,"labelOverlap":false,"title":null}}}},
  {"transform":[{"filter":"isValid(datum.ax) && datum.ax > 5"}],"mark":{"type":"point","shape":"triangle-up","filled":true,"size":14,"color":"#000","angle":0,"opacity":1},"encoding":{"x":{"field":"ax2","type":"quantitative","axis":null},"y":{"field":"ay2","type":"quantitative","axis":{"values":[0.92,0.94,0.96,0.98,1],"format":".2f","tickSize":-4,"labelPadding":13,"labelOverlap":false,"title":null}}}}
 ]},
{"width":361,"height":73,
 "transform":[{"filter":"datum.p == 0 || datum.p == 2"}],
 "encoding":{"x":{"field":"x","type":"quantitative","scale":{"domain":[-11,11.15],"nice":false,"zero":false},"axis":null}},
 "layer":[
  {"transform":[{"filter":"isValid(datum.d)"}],"mark":{"type":"point","shape":"circle","filled":false,"size":10,"color":"#8f8f8f","strokeWidth":0.7,"opacity":1},"encoding":{"y":{"field":"d","type":"quantitative","scale":{"domain":[0.9105,1.0095],"nice":false,"zero":false},"axis":{"values":[0.92,0.94,0.96,0.98,1],"format":".2f","tickSize":-4,"labelPadding":13,"labelOverlap":false,"title":"Relative transmission / %","titleFontSize":14,"titleX":-50,"titleY":73,"titleAngle":270,"titleAlign":"center","titleBaseline":"middle"}}}},
  {"transform":[{"filter":"isValid(datum.f)"}],"mark":{"type":"line","color":"#000","strokeWidth":1.8,"strokeDash":[4,3],"interpolate":"monotone"},"encoding":{"y":{"field":"f","type":"quantitative","axis":{"values":[0.92,0.94,0.96,0.98,1],"format":".2f","tickSize":-4,"labelPadding":13,"labelOverlap":false,"title":"Relative transmission / %","titleFontSize":14,"titleX":-50,"titleY":73,"titleAngle":270,"titleAlign":"center","titleBaseline":"middle"}}}},
  {"transform":[{"filter":"isValid(datum.g)"}],"mark":{"type":"line","color":"#1fe01f","strokeWidth":1.5,"interpolate":"monotone"},"encoding":{"y":{"field":"g","type":"quantitative","axis":{"values":[0.92,0.94,0.96,0.98,1],"format":".2f","tickSize":-4,"labelPadding":13,"labelOverlap":false,"title":"Relative transmission / %","titleFontSize":14,"titleX":-50,"titleY":73,"titleAngle":270,"titleAlign":"center","titleBaseline":"middle"}}}},
  {"transform":[{"filter":"isValid(datum.r)"}],"mark":{"type":"line","color":"#ff0000","strokeWidth":1.7,"interpolate":"monotone"},"encoding":{"y":{"field":"r","type":"quantitative","axis":{"values":[0.92,0.94,0.96,0.98,1],"format":".2f","tickSize":-4,"labelPadding":13,"labelOverlap":false,"title":"Relative transmission / %","titleFontSize":14,"titleX":-50,"titleY":73,"titleAngle":270,"titleAlign":"center","titleBaseline":"middle"}}}},
  {"transform":[{"filter":"isValid(datum.b)"}],"mark":{"type":"line","color":"#0a2aff","strokeWidth":1.4,"interpolate":"monotone"},"encoding":{"y":{"field":"b","type":"quantitative","axis":{"values":[0.92,0.94,0.96,0.98,1],"format":".2f","tickSize":-4,"labelPadding":13,"labelOverlap":false,"title":"Relative transmission / %","titleFontSize":14,"titleX":-50,"titleY":73,"titleAngle":270,"titleAlign":"center","titleBaseline":"middle"}}}},
  {"transform":[{"filter":"isValid(datum.lbl)"}],"mark":{"type":"text","align":"left","baseline":"middle","fontSize":14.5,"font":"Liberation Serif","color":"#000"},"encoding":{"y":{"field":"y","type":"quantitative","axis":{"values":[0.92,0.94,0.96,0.98,1],"format":".2f","tickSize":-4,"labelPadding":13,"labelOverlap":false,"title":"Relative transmission / %","titleFontSize":14,"titleX":-50,"titleY":73,"titleAngle":270,"titleAlign":"center","titleBaseline":"middle"}},"text":{"field":"lbl"}}}
 ]},
{"width":361,"height":73,
 "transform":[{"filter":"datum.p == 0 || datum.p == 3"}],
 "encoding":{"x":{"field":"x","type":"quantitative","scale":{"domain":[-11,11.15],"nice":false,"zero":false},"axis":null}},
 "layer":[
  {"transform":[{"filter":"isValid(datum.d)"}],"mark":{"type":"point","shape":"circle","filled":false,"size":10,"color":"#8f8f8f","strokeWidth":0.7,"opacity":1},"encoding":{"y":{"field":"d","type":"quantitative","scale":{"domain":[0.9105,1.0095],"nice":false,"zero":false},"axis":{"values":[0.92,0.94,0.96,0.98,1],"format":".2f","tickSize":-4,"labelPadding":13,"labelOverlap":false,"title":null}}}},
  {"transform":[{"filter":"isValid(datum.f)"}],"mark":{"type":"line","color":"#000","strokeWidth":1.8,"strokeDash":[4,3],"interpolate":"monotone"},"encoding":{"y":{"field":"f","type":"quantitative","axis":{"values":[0.92,0.94,0.96,0.98,1],"format":".2f","tickSize":-4,"labelPadding":13,"labelOverlap":false,"title":null}}}},
  {"transform":[{"filter":"isValid(datum.g)"}],"mark":{"type":"line","color":"#1fe01f","strokeWidth":1.5,"interpolate":"monotone"},"encoding":{"y":{"field":"g","type":"quantitative","axis":{"values":[0.92,0.94,0.96,0.98,1],"format":".2f","tickSize":-4,"labelPadding":13,"labelOverlap":false,"title":null}}}},
  {"transform":[{"filter":"isValid(datum.r)"}],"mark":{"type":"line","color":"#ff0000","strokeWidth":1.7,"interpolate":"monotone"},"encoding":{"y":{"field":"r","type":"quantitative","axis":{"values":[0.92,0.94,0.96,0.98,1],"format":".2f","tickSize":-4,"labelPadding":13,"labelOverlap":false,"title":null}}}},
  {"transform":[{"filter":"isValid(datum.b)"}],"mark":{"type":"line","color":"#0a2aff","strokeWidth":1.4,"interpolate":"monotone"},"encoding":{"y":{"field":"b","type":"quantitative","axis":{"values":[0.92,0.94,0.96,0.98,1],"format":".2f","tickSize":-4,"labelPadding":13,"labelOverlap":false,"title":null}}}},
  {"transform":[{"filter":"isValid(datum.lbl)"}],"mark":{"type":"text","align":"left","baseline":"middle","fontSize":14.5,"font":"Liberation Serif","color":"#000"},"encoding":{"y":{"field":"y","type":"quantitative","axis":{"values":[0.92,0.94,0.96,0.98,1],"format":".2f","tickSize":-4,"labelPadding":13,"labelOverlap":false,"title":null}},"text":{"field":"lbl"}}}
 ]},
{"width":361,"height":73,
 "transform":[{"filter":"datum.p == 0 || datum.p == 4"}],
 "encoding":{"x":{"field":"x","type":"quantitative","scale":{"domain":[-11,11.15],"nice":false,"zero":false},"axis":{"values":[-10,-7.5,-5,-2.5,0,2.5,5,7.5,10],"labelExpr":"datum.value % 5 == 0 ? (datum.value < 0 ? '-' + abs(datum.value) : '' + datum.value) : ''","tickSize":-4,"labelPadding":9,"title":"Velocity / mm s⁻¹","titleFontSize":13,"titlePadding":3}}},
 "layer":[
  {"transform":[{"filter":"isValid(datum.d)"}],"mark":{"type":"point","shape":"circle","filled":false,"size":10,"color":"#8f8f8f","strokeWidth":0.7,"opacity":1},"encoding":{"y":{"field":"d","type":"quantitative","scale":{"domain":[0.9105,1.0095],"nice":false,"zero":false},"axis":{"values":[0.92,0.94,0.96,0.98,1],"format":".2f","tickSize":-4,"labelPadding":13,"labelOverlap":false,"title":null}}}},
  {"transform":[{"filter":"isValid(datum.f)"}],"mark":{"type":"line","color":"#000","strokeWidth":1.8,"strokeDash":[4,3],"interpolate":"monotone"},"encoding":{"y":{"field":"f","type":"quantitative","axis":{"values":[0.92,0.94,0.96,0.98,1],"format":".2f","tickSize":-4,"labelPadding":13,"labelOverlap":false,"title":null}}}},
  {"transform":[{"filter":"isValid(datum.g)"}],"mark":{"type":"line","color":"#1fe01f","strokeWidth":1.5,"interpolate":"monotone"},"encoding":{"y":{"field":"g","type":"quantitative","axis":{"values":[0.92,0.94,0.96,0.98,1],"format":".2f","tickSize":-4,"labelPadding":13,"labelOverlap":false,"title":null}}}},
  {"transform":[{"filter":"isValid(datum.r)"}],"mark":{"type":"line","color":"#ff0000","strokeWidth":1.7,"interpolate":"monotone"},"encoding":{"y":{"field":"r","type":"quantitative","axis":{"values":[0.92,0.94,0.96,0.98,1],"format":".2f","tickSize":-4,"labelPadding":13,"labelOverlap":false,"title":null}}}},
  {"transform":[{"filter":"isValid(datum.b)"}],"mark":{"type":"line","color":"#0a2aff","strokeWidth":1.4,"interpolate":"monotone"},"encoding":{"y":{"field":"b","type":"quantitative","axis":{"values":[0.92,0.94,0.96,0.98,1],"format":".2f","tickSize":-4,"labelPadding":13,"labelOverlap":false,"title":null}}}},
  {"transform":[{"filter":"isValid(datum.lbl)"}],"mark":{"type":"text","align":"left","baseline":"middle","fontSize":14.5,"font":"Liberation Serif","color":"#000"},"encoding":{"y":{"field":"y","type":"quantitative","axis":{"values":[0.92,0.94,0.96,0.98,1],"format":".2f","tickSize":-4,"labelPadding":13,"labelOverlap":false,"title":null}},"text":{"field":"lbl"}}}
 ]}
]
}
